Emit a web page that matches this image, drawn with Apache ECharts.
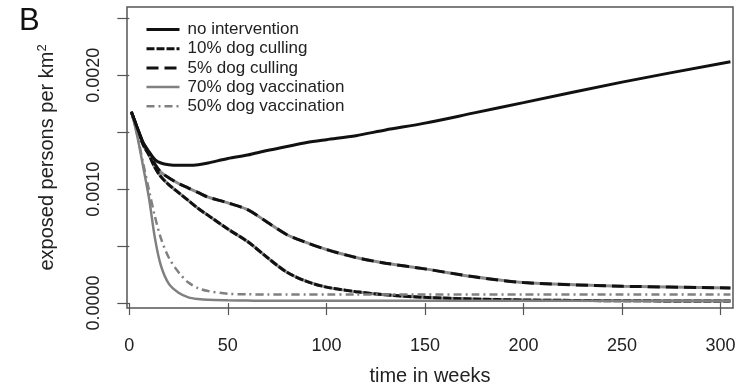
<!DOCTYPE html>
<html>
<head>
<meta charset="utf-8">
<script src="https://cdn.jsdelivr.net/npm/echarts@6/dist/echarts.min.js"></script>
<style>
  html, body { margin: 0; padding: 0; background: #fff; }
  #chart_b { width: 740px; height: 391px; }
</style>
</head>
<body>
<div id="chart_b"></div>
<script>
'use strict';

// weeks
var weeks = [1, 4, 7, 10, 13, 16, 20, 25, 30, 35, 40, 50, 60, 70, 80, 90, 100, 115, 130, 150, 175, 200, 250, 305];

var noIntervention = [0.00168, 0.00154, 0.00141, 0.00133, 0.00126, 0.00123, 0.001215, 0.00121, 0.00121, 0.001215, 0.00123, 0.00127, 0.0013, 0.00134, 0.001375, 0.00141, 0.001435, 0.00147, 0.00152, 0.00158, 0.00167, 0.00176, 0.00194, 0.00212],
    culling10 = [0.00168, 0.00154, 0.00139, 0.0013, 0.00119, 0.00111, 0.00104, 0.00097, 0.0009, 0.00083, 0.00077, 0.00065, 0.00054, 0.0004, 0.00027, 0.00019, 0.00014, 0.0001, 0.000072, 0.00005, 0.000035, 0.000027, 0.00002, 0.000018],
    culling5 = [0.00168, 0.00154, 0.00141, 0.00131, 0.00122, 0.00115, 0.0011, 0.00105, 0.00101, 0.00097, 0.00093, 0.00088, 0.00082, 0.00071, 0.0006, 0.00053, 0.00047, 0.0004, 0.00035, 0.0003, 0.00023, 0.00018, 0.000148, 0.000133],
    vacc70 = [0.00168, 0.00147, 0.0012, 0.00092, 0.00057, 0.00033, 0.00017, 0.00009, 0.00005, 0.000035, 0.000028, 0.000024, 0.000022, 0.00002, 0.00002, 0.00002, 0.00002, 0.00002, 0.00002, 0.00002, 0.00002, 0.00002, 0.00002, 0.00002],
    vacc50 = [0.00168, 0.00148, 0.00123, 0.00099, 0.00076, 0.00057, 0.0004, 0.00027, 0.00018, 0.00013, 0.000105, 0.000082, 0.000077, 0.000075, 0.000075, 0.000075, 0.000075, 0.000075, 0.000075, 0.000075, 0.000075, 0.000075, 0.000075, 0.000075];

var xTicks = [0, 50, 100, 150, 200, 250, 300],
    yTicks = [0, 0.0005, 0.001, 0.0015, 0.002, 0.0025],
    yLabels = [0, 0.001, 0.002];

var legendNames = ['no intervention', '10% dog culling', '5% dog culling', '70% dog vaccination', '50% dog vaccination'];

function pairs(arr) {
    return weeks.map(function (w, i) { return [w, arr[i]]; });
}

function line(name, arr, color, width, type, z) {
    return {
        name: name,
        type: 'line',
        symbol: 'none',
        smooth: 0.3,
        z: z,
        lineStyle: { color: color, width: width, type: type },
        itemStyle: { color: color },
        data: pairs(arr)
    };
}

var chart_b = echarts.init(document.getElementById('chart_b'));

var option = {
    animation: false,
    textStyle: { fontFamily: 'Liberation Sans, Arial, sans-serif', color: '#222' },
    title: {
        text: 'B',
        left: 14,
        top: 1,
        textStyle: { fontSize: 31, fontWeight: 'normal', color: '#111' }
    },
    legend: {
        data: legendNames,
        orient: 'vertical',
        left: 140,
        top: 16,
        itemWidth: 33,
        itemHeight: 14,
        itemGap: 2.2,
        itemStyle: { opacity: 0 },
        lineStyle: { width: 'inherit' },
        textStyle: { fontSize: 17, lineHeight: 17, color: '#222', padding: [0, 0, 0, 3] }
    },
    grid: {
        left: 127,
        right: 7,
        top: 7,
        bottom: 80,
        show: true,
        borderColor: '#555',
        borderWidth: 1.5
    },
    xAxis: {
        type: 'value',
        min: -1.17,
        max: 306.3,
        name: 'time in weeks',
        nameLocation: 'middle',
        nameGap: 58,
        nameTextStyle: { fontSize: 20, color: '#222' },
        axisLine: { show: false },
        splitLine: { show: false },
        axisTick: { show: true, length: 12, customValues: xTicks, lineStyle: { color: '#555', width: 1.2 } },
        axisLabel: { customValues: xTicks, fontSize: 18, margin: 29, color: '#222' }
    },
    yAxis: {
        type: 'value',
        min: -0.0000435,
        max: 0.0026,
        name: 'exposed persons per km{sup|2}',
        nameLocation: 'middle',
        nameGap: 68,
        nameTextStyle: {
            fontSize: 20,
            color: '#222',
            rich: { sup: { fontSize: 13, padding: [0, 0, 10, 0], color: '#222' } }
        },
        axisLine: { show: false },
        splitLine: { show: false },
        axisTick: { show: true, length: 12, customValues: yTicks, lineStyle: { color: '#555', width: 1.2 } },
        axisLabel: {
            customValues: yLabels,
            rotate: 90,
            fontSize: 18,
            margin: 24,
            color: '#222',
            alignMinLabel: 'center',
            alignMaxLabel: 'center',
            formatter: function (v) { return v.toFixed(4); }
        }
    },
    series: [
        line('no intervention', noIntervention, '#111', 3, 'solid', 5),
        // culling curves: grey base under black dashes
        line('10% base', culling10, '#8a8a8a', 3, 'solid', 2),
        line('10% dog culling', culling10, '#111', 3, [8, 2], 3),
        line('5% base', culling5, '#8a8a8a', 3, 'solid', 2),
        line('5% dog culling', culling5, '#111', 3, [12, 6], 3),
        line('70% dog vaccination', vacc70, '#808080', 2.5, 'solid', 4),
        line('50% dog vaccination', vacc50, '#808080', 2.5, [8, 4, 2, 4], 4)
    ]
};

chart_b.setOption(option);
</script>
</body>
</html>
